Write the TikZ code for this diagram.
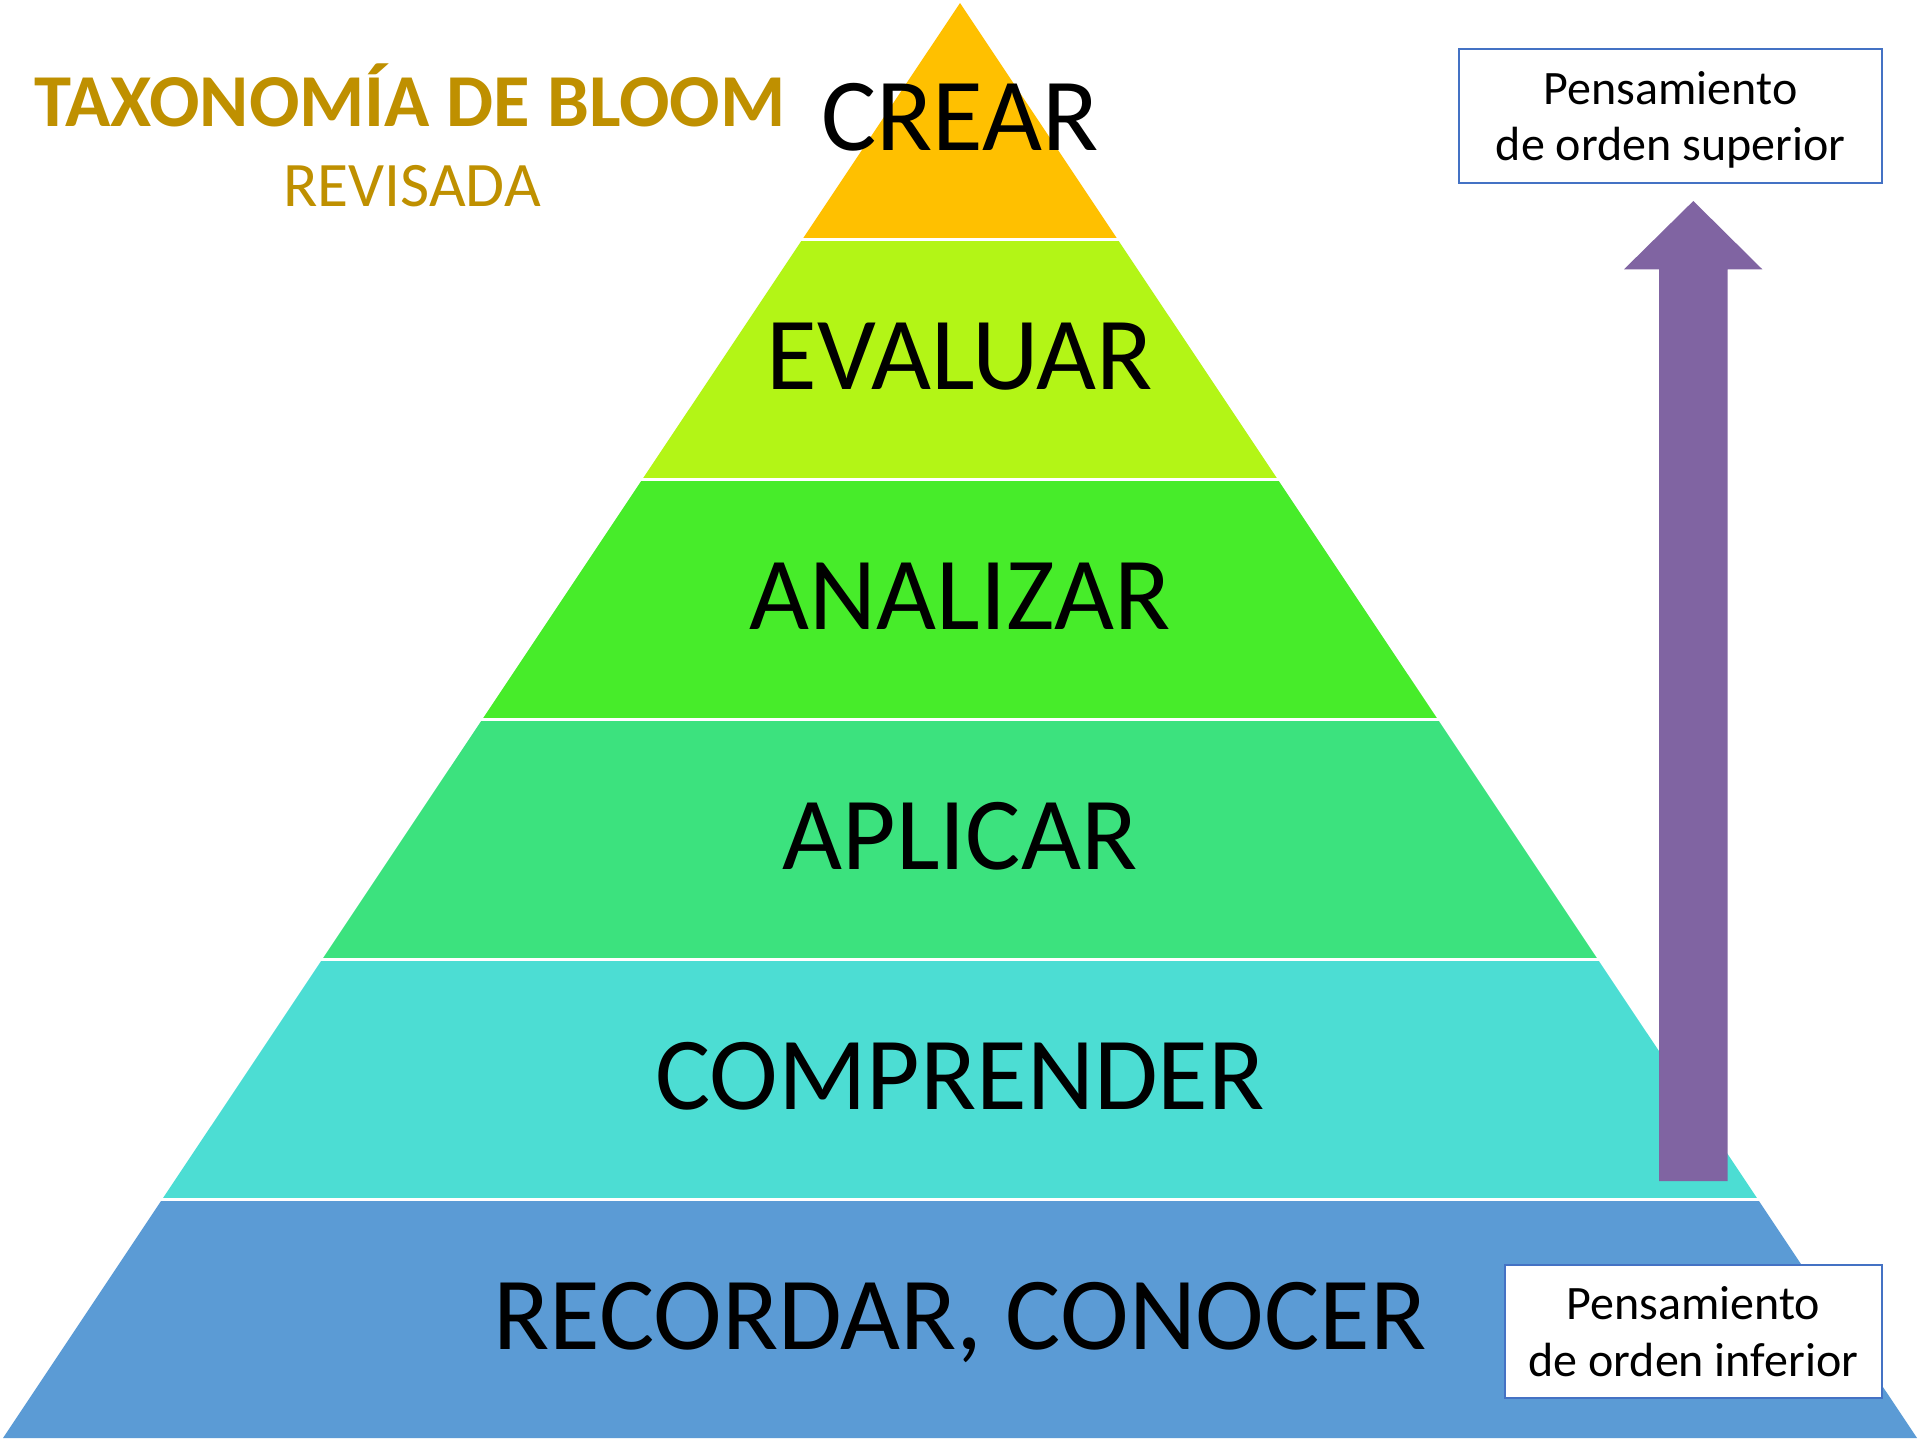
\documentclass[tikz,border=0pt]{standalone}
\usepackage{fontspec}
\setmainfont{Carlito}
\definecolor{cCrear}{HTML}{FFC000}
\definecolor{cEval}{HTML}{B3F516}
\definecolor{cAnal}{HTML}{47EC2A}
\definecolor{cApl}{HTML}{3CE27E}
\definecolor{cComp}{HTML}{4CDDD3}
\definecolor{cRec}{HTML}{5B9BD5}
\definecolor{cTitle}{HTML}{BF9000}
\definecolor{cArrow}{HTML}{8064A2}
\definecolor{cBox}{HTML}{4472C4}
\begin{document}
\begin{tikzpicture}[x=1pt,y=-1pt,
  level/.style={inner sep=0pt, anchor=base, font=\fontsize{103.6}{120}\selectfont},
  thinkbox/.style={draw=cBox, line width=2pt, fill=white, align=center, inner sep=0pt,
    font=\fontsize{48}{56.6}\selectfont, text depth=0pt}]
\useasboundingbox (0,0) rectangle (1920,1440);
\fill[white] (0,0) rectangle (1920,1440);
\begin{scope}
\clip (960,3) -- (1917,1438) -- (3,1438) -- cycle;
\fill[cCrear] (0,0) rectangle (1920,238);
\fill[cEval] (0,241) rectangle (1920,478);
\fill[cAnal] (0,481) rectangle (1920,718);
\fill[cApl] (0,721) rectangle (1920,958);
\fill[cComp] (0,961) rectangle (1920,1198);
\fill[cRec] (0,1201) rectangle (1920,1440);
\end{scope}
\node[level] (crear) at (960,150) {CREAR};
\node[level] (evaluar) at (960,389.4) {EVALUAR};
\node[level] (analizar) at (960,629.4) {ANALIZAR};
\node[level] (aplicar) at (960,869.4) {APLICAR};
\node[level] (comprender) at (960,1109.4) {COMPRENDER};
\node[level] (recordar) at (960,1349.4) {RECORDAR, CONOCER};
\node[anchor=base, inner sep=0pt, text=cTitle, font=\bfseries\fontsize{74.7}{80}\selectfont] (title) at (410,126.7) {TAXONOMÍA DE BLOOM};
\node[anchor=base, inner sep=0pt, text=cTitle, font=\fontsize{63.4}{70}\selectfont] (rev) at (412,206) {REVISADA};
\fill[cArrow] (1693.3,201) -- (1762.3,269.3) -- (1727.7,269.3) -- (1727.7,1181) -- (1659,1181) -- (1659,269.3) -- (1624,269.3) -- cycle;
\node[thinkbox, minimum width=423pt, minimum height=134pt] (sup) at (1670.5,116) {Pensamiento\\ de orden superior};
\node[thinkbox, minimum width=377pt, minimum height=133pt] (inf) at (1693.3,1331.7) {Pensamiento\\de orden inferior};
\end{tikzpicture}
\end{document}
